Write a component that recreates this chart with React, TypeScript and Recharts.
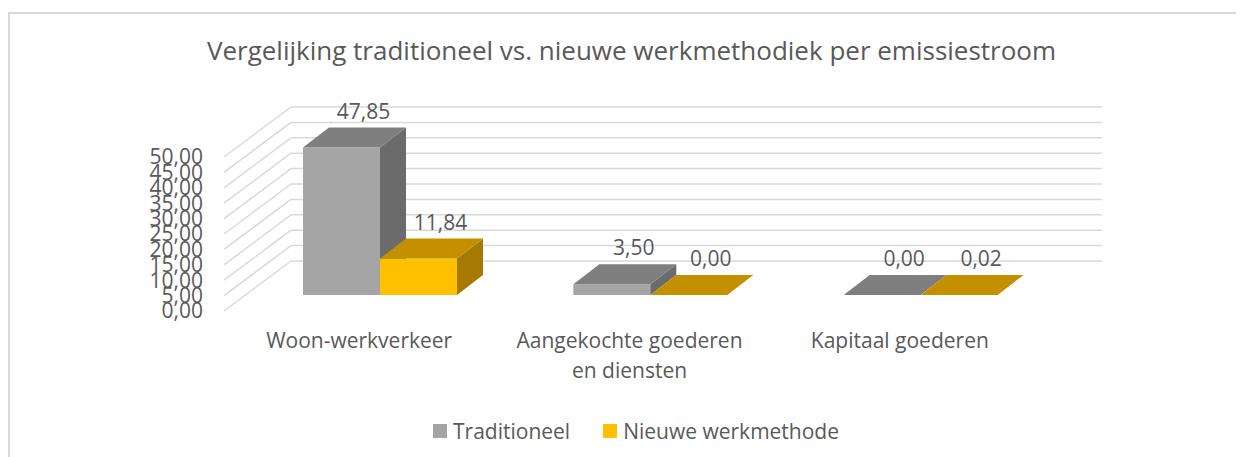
import React from 'react';
import { BarChart, Bar, XAxis, YAxis, CartesianGrid, LabelList, Legend } from 'recharts';

// ---- data ----
const categories = ['Woon-werkverkeer', 'Aangekochte goederen\nen diensten', 'Kapitaal goederen'];
const traditioneel = [47.85, 3.5, 0.0];
const nieuweWerkmethode = [11.84, 0.0, 0.02];
const seriesNames = ['Traditioneel', 'Nieuwe werkmethode'];
const yTicks = [0, 5, 10, 15, 20, 25, 30, 35, 40, 45, 50];
const titleText = 'Vergelijking traditioneel vs. nieuwe werkmethodiek per emissiestroom';

const data = categories.map((c, i) => ({ category: c, trad: traditioneel[i], nieuw: nieuweWerkmethode[i] }));

// ---- styles ----
const FONT = '"Open Sans", "Noto Sans", sans-serif';
const FS = 21;
const TEXT = '#595959';
const GRID = '#D9D9D9';
const GRAY = { front: '#A5A5A5', top: '#7F7F7F', side: '#6B6B6B' };
const GOLD = { front: '#FFC000', top: '#C49000', side: '#A47B00' };

// 3D offsets
const FX = 21, FY = -16; // bar front plane offset from floor front edge
const BX = 26, BY = -20; // bar depth
const WX = 67, WY = -50; // back wall offset

const fmt = (v: number) => v.toFixed(2).replace('.', ',');

const makeShape = (c: { front: string; top: string; side: string }) => (props: any) => {
  const { x, y, width, height } = props;
  const fx = x + FX;
  const fy = y + FY;
  const h = Math.max(0, height);
  const top = `${fx},${fy} ${fx + width},${fy} ${fx + width + BX},${fy + BY} ${fx + BX},${fy + BY}`;
  const side = `${fx + width},${fy} ${fx + width + BX},${fy + BY} ${fx + width + BX},${fy + BY + h} ${fx + width},${fy + h}`;
  return (
    <g>
      {h > 0.5 && <rect x={fx} y={fy} width={width} height={h} fill={c.front} />}
      {h > 0.5 && <polygon points={side} fill={c.side} />}
      <polygon points={top} fill={c.top} />
    </g>
  );
};

const valueLabel = (props: any) => {
  const { x, y, width, value } = props;
  const cx = x + FX + BX + width / 2 - 4;
  const cy = y + FY + BY - 17;
  return (
    <text x={cx} y={cy} textAnchor="middle" dominantBaseline="central" fill={TEXT} fontSize={FS} fontFamily={FONT}>
      {fmt(Number(value))}
    </text>
  );
};

const CategoryTick = (props: any) => {
  const { x, y, payload } = props;
  const lines = String(payload.value).split('\n');
  return (
    <text x={x} y={y} textAnchor="middle" fill={TEXT} fontSize={FS} fontFamily={FONT}>
      {lines.map((l, i) => (
        <tspan key={i} x={x} dy={i === 0 ? '0.71em' : 30}>{l}</tspan>
      ))}
    </text>
  );
};

const gridLine = (props: any) => {
  const { x1, x2, y1, key } = props;
  return (
    <g key={key}>
      <line x1={x1} y1={y1} x2={x1 + WX} y2={y1 + WY} stroke={GRID} strokeWidth={1.5} />
      <line x1={x1 + WX} y1={y1 + WY} x2={x2 + WX} y2={y1 + WY} stroke={GRID} strokeWidth={1.5} />
    </g>
  );
};

const renderLegend = () => (
  <div style={{ display: 'flex', alignItems: 'center', fontFamily: FONT, fontSize: FS, color: TEXT, whiteSpace: 'nowrap' }}>
    {seriesNames.map((n, i) => (
      <div key={n} style={{ display: 'flex', alignItems: 'center', marginRight: i === 0 ? 33 : 0 }}>
        <div style={{ width: 14, height: 14, background: i === 0 ? GRAY.front : GOLD.front, marginRight: 6 }} />
        <span>{n}</span>
      </div>
    ))}
  </div>
);

export default function App() {
  return (
    <div style={{ position: 'relative', width: 1236, height: 449, overflow: 'hidden', background: '#fff' }}>
      <div style={{ position: 'absolute', left: 0, top: 4, width: 1400, height: 600, border: `2px solid ${GRID}`, boxSizing: 'border-box' }} />
      <div style={{ position: 'absolute', left: 0, top: 29, width: 1247, textAlign: 'center', fontFamily: FONT, fontSize: 26, lineHeight: '26px', color: TEXT, whiteSpace: 'nowrap' }}>
        {titleText}
      </div>
      <div style={{ position: 'absolute', left: 0, top: 0 }}>
        <BarChart
          width={1236}
          height={449}
          data={data}
          margin={{ top: 149, right: 209, bottom: 116, left: 156 }}
          barCategoryGap={58}
          barGap={0}
        >
          <CartesianGrid vertical={false} horizontal={gridLine} />
          <XAxis
            dataKey="category"
            height={30}
            axisLine={false}
            tickLine={false}
            tickSize={0}
            tickMargin={22}
            interval={0}
            tick={<CategoryTick />}
          />
          <YAxis
            width={60}
            domain={[0, 50]}
            ticks={yTicks}
            interval={0}
            axisLine={false}
            tickLine={false}
            tickSize={0}
            tickMargin={21}
            tickFormatter={(v: number) => fmt(v)}
            tick={{ fill: TEXT, fontSize: FS, fontFamily: FONT }}
          />
          <Legend
            verticalAlign="middle"
            content={renderLegend}
            wrapperStyle={{ position: 'absolute', left: 425, top: 409, width: 'auto' }}
          />
          <Bar dataKey="trad" name={seriesNames[0]} fill={GRAY.front} shape={makeShape(GRAY)} isAnimationActive={false}>
            <LabelList dataKey="trad" content={valueLabel} />
          </Bar>
          <Bar dataKey="nieuw" name={seriesNames[1]} fill={GOLD.front} shape={makeShape(GOLD)} isAnimationActive={false}>
            <LabelList dataKey="nieuw" content={valueLabel} />
          </Bar>
        </BarChart>
      </div>
    </div>
  );
}
